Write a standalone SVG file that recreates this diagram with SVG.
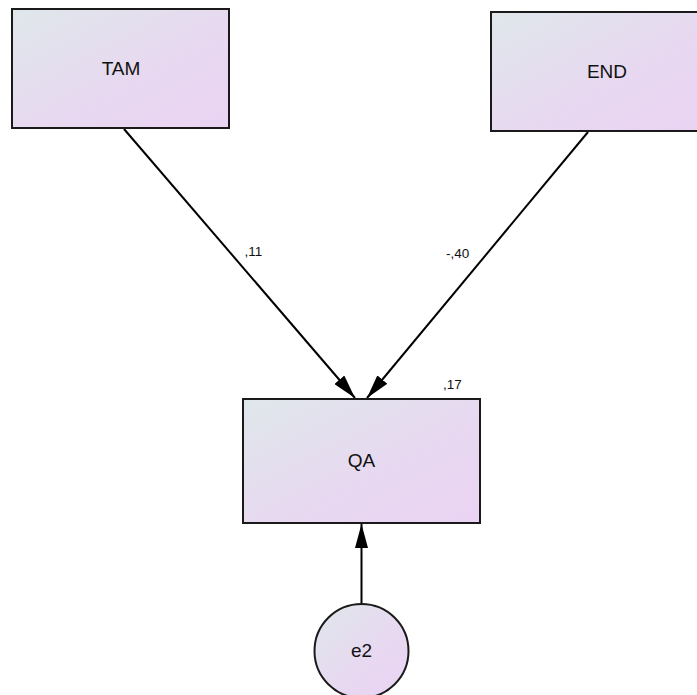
<svg xmlns="http://www.w3.org/2000/svg" width="697" height="695" viewBox="0 0 697 695">
  <defs>
    <linearGradient id="fill" x1="0" y1="0" x2="1" y2="1" gradientUnits="objectBoundingBox">
      <stop offset="0" stop-color="#dfe7ea"/>
      <stop offset="0.6" stop-color="#e8d8f1"/>
      <stop offset="1" stop-color="#ead3f3"/>
    </linearGradient>
    <marker id="arrow" markerWidth="24" markerHeight="13" refX="24" refY="6.5" viewBox="0 0 24 13" markerUnits="userSpaceOnUse" orient="auto">
      <path d="M0,0 L24,6.5 L0,13 Z" fill="#000"/>
    </marker>
  </defs>
  <style>
    .node { fill: url(#fill); stroke: #1a1a1a; stroke-width: 2; }
    .edge { stroke: #000; stroke-width: 2; fill: none; marker-end: url(#arrow); }
    text { font-family: "Liberation Sans", Arial, sans-serif; fill: #111; }
    .label { font-size: 19px; text-anchor: middle; }
    .coef { font-size: 13.5px; }
  </style>
  <rect width="697" height="695" fill="#fff"/>

  <g id="connectors">
    <line class="edge" x1="124" y1="129" x2="355" y2="398"/>
    <line class="edge" x1="588" y1="132" x2="367" y2="398"/>
    <line class="edge" x1="361.5" y1="604" x2="361.5" y2="524"/>
    <text class="coef" x="244.5" y="256">,11</text>
    <text class="coef" x="446" y="258">-,40</text>
  </g>

  <g id="TAM">
    <rect class="node" x="12" y="9" width="217" height="119"/>
    <text class="label" x="121" y="75">TAM</text>
  </g>

  <g id="END">
    <rect class="node" x="491" y="12" width="210" height="119"/>
    <text class="label" x="607" y="78">END</text>
  </g>

  <g id="QA">
    <rect class="node" x="243" y="399" width="237" height="124"/>
    <text class="label" x="361.5" y="467">QA</text>
    <text class="coef" x="443" y="389">,17</text>
  </g>

  <g id="e2">
    <circle class="node" cx="361.5" cy="651" r="47"/>
    <text class="label" x="361.5" y="657">e2</text>
  </g>
</svg>
